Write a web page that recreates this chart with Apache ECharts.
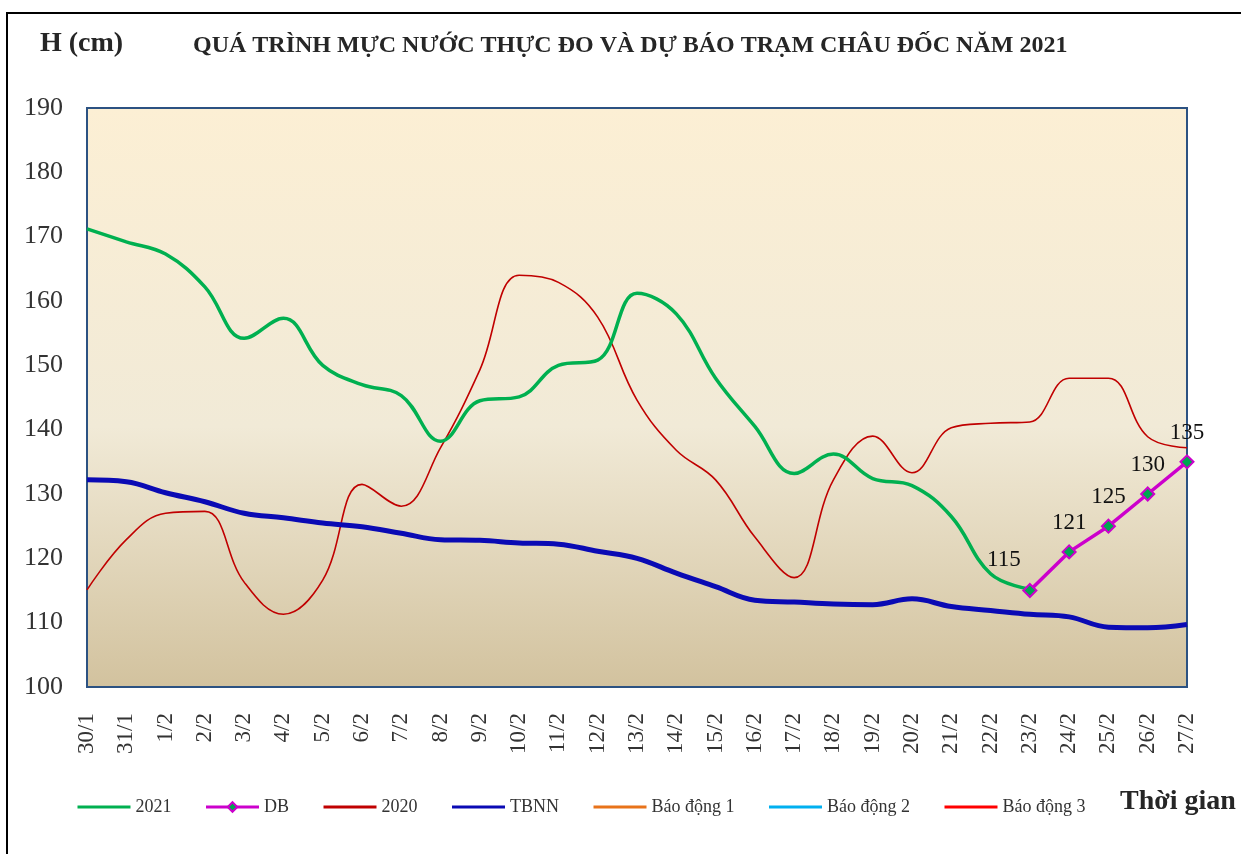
<!DOCTYPE html>
<html>
<head>
<meta charset="utf-8">
<title>Mực nước Châu Đốc 2021</title>
<script src="https://cdn.jsdelivr.net/npm/echarts@6/dist/echarts.min.js"></script>
<style>
  html, body { margin: 0; padding: 0; background: #fff; }
  #chart { width: 1241px; height: 854px; }
</style>
</head>
<body>
<div id="chart"></div>
<script>
// ngay (truc hoanh)
const days = ['30/1', '31/1', '1/2', '2/2', '3/2', '4/2', '5/2', '6/2', '7/2', '8/2', '9/2', '10/2',
  '11/2', '12/2', '13/2', '14/2', '15/2', '16/2', '17/2', '18/2', '19/2', '20/2', '21/2', '22/2',
  '23/2', '24/2', '25/2', '26/2', '27/2']

// muc nuoc thuc do 2021 (cm)
const h2021 = [171.2, 169.2, 167.3, 162.2, 154.2, 157.3, 150.0, 147.0, 145.3, 138.2, 144.5, 145.1,
  150.0, 150.8, 161.2, 158.0, 148.0, 140.5, 133.2, 136.2, 132.4, 131.3, 126.5, 117.6, 115.2,
  null, null, null, null]

// du bao
const dbValues = [null, null, null, null, null, null, null, null, null, null, null, null, null, null,
  null, null, null, null, null, null, null, null, null, null, 115, 121, 125, 130, 135]

// cung ky 2020
const h2020 = [115.1, 122.9, 127.0, 127.3, 116.3, 111.3, 116.6, 131.5, 128.1, 137.2, 149.3, 164.0,
  162.9, 157.5, 144.6, 136.8, 132.2, 123.3, 117.0, 132.2, 139.0, 133.3, 140.3, 141.0, 141.2,
  148.0, 148.0, 138.9, 137.2]

// trung binh nhieu nam
const tbnn = [132.2, 131.9, 130.2, 128.8, 127.0, 126.3, 125.5, 124.9, 123.9, 122.9, 122.8, 122.4,
  122.2, 121.1, 120.0, 117.7, 115.6, 113.5, 113.2, 112.9, 112.8, 113.7, 112.5, 111.9, 111.3,
  110.9, 109.3, 109.2, 109.7]

const yTicks = [100, 110, 120, 130, 140, 150, 160, 170, 180, 190]

const legendNames = ['2021', 'DB', '2020', 'TBNN', 'Báo động 1', 'Báo động 2', 'Báo động 3']

const serif = '"Liberation Serif", "DejaVu Serif", serif'

const chart = echarts.init(document.getElementById('chart'))

const option = {
  animation: false,
  textStyle: { fontFamily: serif, color: '#222' },
  graphic: [
    {
      type: 'rect',
      shape: { x: 7, y: 13, width: 1400, height: 1000 },
      style: { fill: 'none', stroke: '#000', lineWidth: 2 }
    },
    {
      type: 'text', left: 40, top: 30,
      style: { text: 'H (cm)', font: 'bold 28px ' + serif, fill: '#262626' }
    },
    {
      type: 'text', left: 193, top: 34,
      style: { text: 'QUÁ TRÌNH MỰC NƯỚC THỰC ĐO VÀ DỰ BÁO TRẠM CHÂU ĐỐC NĂM 2021', font: 'bold 24px ' + serif, fill: '#262626' }
    },
    {
      type: 'text', left: 1120, top: 788,
      style: { text: 'Thời gian', font: 'bold 28px ' + serif, fill: '#262626' }
    }
  ],
  grid: {
    left: 87,
    top: 108,
    right: 54,
    bottom: 167,
    show: true,
    borderColor: '#2c5282',
    borderWidth: 2,
    backgroundColor: new echarts.graphic.LinearGradient(0, 0, 0, 1, [
      { offset: 0, color: '#fcefd4' },
      { offset: 0.55, color: '#f1ead7' },
      { offset: 1, color: '#d2c29e' }
    ])
  },
  legend: {
    left: 71,
    top: 793,
    itemWidth: 53,
    itemHeight: 12,
    itemGap: 33,
    lineStyle: { width: 3 },
    textStyle: { fontFamily: serif, fontSize: 18, color: '#333' },
    data: legendNames.map(n => (n === 'DB' ? n : { name: n, itemStyle: { opacity: 0 } }))
  },
  xAxis: {
    type: 'category',
    data: days,
    boundaryGap: false,
    axisLine: { show: false },
    axisTick: { show: false },
    axisLabel: {
      rotate: 90,
      interval: 0,
      margin: 26,
      fontFamily: serif,
      fontSize: 23,
      color: '#333'
    }
  },
  yAxis: {
    type: 'value',
    min: yTicks[0],
    max: yTicks[yTicks.length - 1],
    interval: 10,
    axisLine: { show: false },
    axisTick: { show: false },
    splitLine: { show: false },
    axisLabel: {
      margin: 24,
      fontFamily: serif,
      fontSize: 26,
      color: '#333'
    }
  },
  series: [
    {
      name: '2021', type: 'line', data: h2021, smooth: 0.4, symbol: 'none', z: 4,
      lineStyle: { color: '#00b050', width: 3.5 },
      itemStyle: { color: '#00b050' }
    },
    {
      name: 'DB', type: 'line', data: dbValues.map((v, i) => (i === 24 ? { value: v, label: { offset: [-26, -2] } } : v)),
      symbol: 'diamond', symbolSize: 13, z: 6,
      lineStyle: { color: '#cc00cc', width: 3.5 },
      itemStyle: { color: '#00a651', borderColor: '#cc00cc', borderWidth: 2 },
      label: { show: true, position: 'top', distance: 10, fontFamily: serif, fontSize: 23, color: '#111' }
    },
    {
      name: '2020', type: 'line', data: h2020, smooth: 0.4, symbol: 'none', z: 3,
      lineStyle: { color: '#c00000', width: 1.6 },
      itemStyle: { color: '#c00000' }
    },
    {
      name: 'TBNN', type: 'line', data: tbnn, smooth: 0.4, symbol: 'none', z: 5,
      lineStyle: { color: '#0a0ab4', width: 5 },
      itemStyle: { color: '#0a0ab4' }
    },
    {
      name: 'Báo động 1', type: 'line', data: [], symbol: 'none',
      lineStyle: { color: '#e8731a', width: 2 }, itemStyle: { color: '#e8731a' }
    },
    {
      name: 'Báo động 2', type: 'line', data: [], symbol: 'none',
      lineStyle: { color: '#00b0f0', width: 2 }, itemStyle: { color: '#00b0f0' }
    },
    {
      name: 'Báo động 3', type: 'line', data: [], symbol: 'none',
      lineStyle: { color: '#ff0000', width: 2 }, itemStyle: { color: '#ff0000' }
    }
  ]
}

chart.setOption(option)
</script>
</body>
</html>
